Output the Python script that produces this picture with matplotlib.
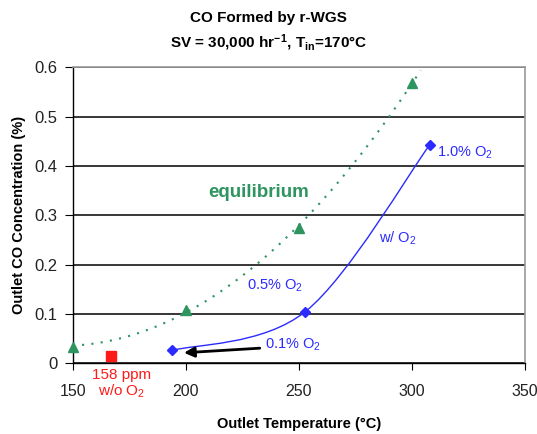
import matplotlib
matplotlib.use("Agg")
import matplotlib.pyplot as plt
from matplotlib.path import Path
from matplotlib.patches import PathPatch
import numpy as np

plt.rcParams.update({
    "font.family": ["Liberation Sans", "DejaVu Sans"],
    "mathtext.fontset": "custom",
    "mathtext.rm": "Liberation Sans",
    "mathtext.it": "Liberation Sans:italic",
    "mathtext.bf": "Liberation Sans:bold",
})

# equilibrium CO vs outlet temperature
eq_temp = [150, 200, 250, 300]
eq_co = [0.034, 0.108, 0.274, 0.568]

# measured with O2 addition (0.1 %, 0.5 %, 1.0 % O2)
o2_temp = [194, 253, 308]
o2_co = [0.026, 0.105, 0.443]

# without O2: 158 ppm
no_o2_temp = [167]
no_o2_co = [0.0158]

GREEN = "#2e9460"
BLUE = "#2b2bff"
RED = "#ff1a1a"

fig = plt.figure(figsize=(5.37, 4.34), dpi=100)
ax = fig.add_axes([0.1354, 0.1629, 0.8417, 0.682])

# polynomial trendline through the equilibrium points
coef = np.polyfit(eq_temp, eq_co, 2)
tt = np.linspace(150, 304, 200)
ax.plot(tt, np.polyval(coef, tt), color=GREEN, linestyle=(0, (1, 3.5)),
        linewidth=1.5, clip_on=False, zorder=3)
ax.plot(eq_temp, eq_co, linestyle="none", marker="^", markersize=7,
        color=GREEN, clip_on=False, zorder=4)

# smoothed line through the O2 points (cubic Bezier, Catmull-Rom style)
pts = np.column_stack([o2_temp, o2_co]).astype(float)
ext = np.vstack([pts[0], pts, pts[-1]])
verts = [tuple(pts[0])]
codes = [Path.MOVETO]
for i in range(len(pts) - 1):
    p0, p1, p2, p3 = ext[i], ext[i + 1], ext[i + 2], ext[i + 3]
    c1 = p1 + (p2 - p0) / 6.0
    c2 = p2 - (p3 - p1) / 6.0
    verts += [tuple(c1), tuple(c2), tuple(p2)]
    codes += [Path.CURVE4] * 3
ax.add_patch(PathPatch(Path(verts, codes), facecolor="none",
                       edgecolor=BLUE, linewidth=1.0, zorder=3))
ax.plot(o2_temp, o2_co, linestyle="none", marker="D", markersize=5.5,
        color=BLUE, zorder=4)

ax.plot(no_o2_temp, no_o2_co, linestyle="none", marker="s", markersize=7.5,
        color=RED, zorder=4)

ax.set_xlim(150, 350)
ax.set_ylim(0, 0.6)
ax.set_xticks([150, 200, 250, 300, 350])
ax.set_yticks([0, 0.1, 0.2, 0.3, 0.4, 0.5, 0.6])
ax.set_yticklabels(["0", "0.1", "0.2", "0.3", "0.4", "0.5", "0.6"])
ax.tick_params(axis="both", labelcolor="#222222", color="black")
ax.tick_params(axis="x", length=5, pad=10, labelsize=11.5)
ax.tick_params(axis="y", length=6, pad=5, labelsize=12)

ax.yaxis.grid(True, color="black", linewidth=1.1)
ax.set_axisbelow(True)
for side in ["top", "right"]:
    ax.spines[side].set_color("#9a9a9a")
    ax.spines[side].set_linewidth(1.2)
for side in ["left", "bottom"]:
    ax.spines[side].set_color("black")
    ax.spines[side].set_linewidth(1.0)

# annotations
ax.text(311, 0.427, "1.0% O$_2$", color=BLUE, fontsize=10.5, va="center")
ax.text(285.5, 0.254, "w/ O$_2$", color=BLUE, fontsize=10.5, va="center")
ax.text(227, 0.157, "0.5% O$_2$", color=BLUE, fontsize=10.5, va="center")
ax.text(235, 0.037, "0.1% O$_2$", color=BLUE, fontsize=10.5, va="center")
ax.text(210, 0.347, "equilibrium", color=GREEN, fontsize=13.5,
        fontweight="bold", va="center")
ax.annotate("", xy=(198, 0.021), xytext=(234, 0.031),
            arrowprops=dict(arrowstyle="-|>,head_length=0.6,head_width=0.3",
                            color="black", lw=2))
fig.text(122 / 537, 1 - 375 / 434, "158 ppm", color=RED, fontsize=11,
         ha="center", va="center")
fig.text(122 / 537, 1 - 391 / 434, "w/o O$_2$", color=RED, fontsize=11,
         ha="center", va="center")

ax.set_xlabel("Outlet Temperature (°C)", fontsize=10.5, fontweight="bold",
              labelpad=13)
ax.set_ylabel("Outlet CO Concentration (%)", fontsize=10.5,
              fontweight="bold", labelpad=6)

fig.text(0.5, 1 - 18 / 434, "CO Formed by r-WGS", fontsize=11,
         fontweight="bold", ha="center", va="center")
fig.text(0.5, 1 - 43 / 434,
         r"SV = 30,000 hr$^{\mathbf{-1}}$, T$_{\mathbf{in}}$=170°C",
         fontsize=11, fontweight="bold", ha="center", va="center")

fig.savefig("out.png", dpi=100)
